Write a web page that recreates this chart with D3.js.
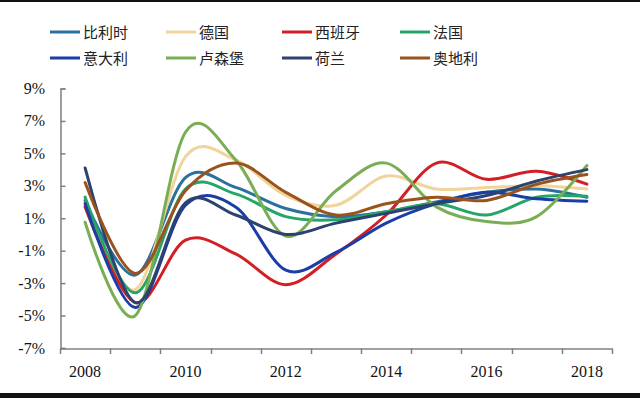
<!DOCTYPE html>
<html><head><meta charset="utf-8">
<script src="https://cdn.jsdelivr.net/npm/d3@7"></script>
<style>body{margin:0;background:#fff;}svg{display:block;}</style>
</head><body>
<svg id="c" width="640" height="398"></svg>
<script>
const years = ["2008","2009","2010","2011","2012","2013","2014","2015","2016","2017","2018"];
const yTicks = [-7,-5,-3,-1,1,3,5,7,9];
const names = ["比利时","德国","西班牙","法国","意大利","卢森堡","荷兰","奥地利"];
const colors = ["#2A70A0","#F0D49C","#D21E24","#26A568","#1B3DA6","#7AAE55","#2C426F","#9A531C"];
const belgium    = [2.1,-2.5,3.5,2.9,1.6,1.1,1.4,2.0,2.6,2.8,2.3];
const germany    = [1.8,-3.4,4.8,4.6,2.4,1.8,3.6,2.8,2.9,3.0,2.8];
const spain      = [1.7,-4.2,-0.35,-1.2,-3.1,-1.2,1.2,4.4,3.4,3.9,3.1];
const france     = [2.3,-3.6,2.8,2.5,1.1,0.9,1.4,1.9,1.2,2.3,2.35];
const italy      = [1.9,-4.5,1.8,1.7,-2.2,-1.1,0.7,1.9,2.6,2.2,2.05];
const luxembourg = [0.75,-5.0,6.3,4.6,-0.1,2.7,4.4,1.7,0.8,1.1,4.25];
const netherlands= [4.1,-4.2,1.95,1.2,0.0,0.7,1.3,1.9,2.4,3.3,4.0];
const austria    = [3.2,-2.4,2.7,4.4,2.6,1.2,1.9,2.3,2.1,3.1,3.7];
const seriesVals = [belgium,germany,spain,france,italy,luxembourg,netherlands,austria];

const svg = d3.select("#c");
svg.append("rect").attr("x",0).attr("y",0).attr("width",640).attr("height",2).attr("fill","#111");
svg.append("rect").attr("x",0).attr("y",393).attr("width",640).attr("height",5).attr("fill","#111");

const x = d3.scaleBand().domain(years).range([60,612]);
const y = d3.scaleLinear().domain([-7,9]).range([348,88.5]);

const axisColor = "#808080";
const ya = svg.append("g").attr("transform","translate(60.5,0)")
  .call(d3.axisRight(y).tickValues(yTicks).tickSize(5).tickFormat(""));
ya.select(".domain").attr("stroke",axisColor).attr("stroke-width",1.5);
ya.selectAll(".tick line").attr("stroke",axisColor).attr("stroke-width",1.5);
svg.append("g").selectAll("text").data(yTicks).join("text")
  .attr("x",45).attr("y",d=>y(d)+5.5).attr("text-anchor","end")
  .attr("font-family","Liberation Serif, Times New Roman, serif").attr("font-size",16)
  .attr("fill","#111").text(d=>d+"%");

const xa = svg.append("g").attr("transform","translate(0,348.5)")
  .call(d3.axisBottom(x).tickSize(0).tickFormat(""));
xa.select(".domain").attr("stroke",axisColor).attr("stroke-width",1.5);
xa.selectAll(".tick").remove();
const bounds = years.map(d=>x(d)).concat([x.range()[1]]);
svg.append("g").selectAll("line").data(bounds).join("line")
  .attr("x1",d=>Math.round(d)+0.5).attr("x2",d=>Math.round(d)+0.5)
  .attr("y1",348.5).attr("y2",354).attr("stroke",axisColor).attr("stroke-width",1.5);
svg.append("g").selectAll("text").data(years.filter((d,i)=>i%2===0)).join("text")
  .attr("x",d=>x(d)+x.bandwidth()/2).attr("y",377).attr("text-anchor","middle")
  .attr("font-family","Liberation Serif, Times New Roman, serif").attr("font-size",16)
  .attr("fill","#111").text(d=>d);

const line = d3.line()
  .x((d,i)=>x(years[i])+x.bandwidth()/2)
  .y(d=>y(d))
  .curve(d3.curveCardinal.tension(0));
svg.append("g").selectAll("path").data(seriesVals).join("path")
  .attr("d",d=>line(d)).attr("fill","none")
  .attr("stroke",(d,i)=>colors[i]).attr("stroke-width",3)
  .attr("stroke-linecap","round").attr("stroke-linejoin","round");

const colX = [50,166,282,400];
const rowY = [32,58];
const lg = svg.append("g").selectAll("g").data(names).join("g")
  .attr("transform",(d,i)=>`translate(${colX[i%4]},${rowY[Math.floor(i/4)]})`);
lg.append("line").attr("x1",0).attr("x2",30).attr("y1",0).attr("y2",0)
  .attr("stroke",(d,i)=>colors[i]).attr("stroke-width",3);
lg.append("text").attr("x",33).attr("y",5.5)
  .attr("font-family","Noto Sans CJK SC, sans-serif").attr("font-size",15)
  .attr("fill","#222").text(d=>d);
</script>
</body></html>
